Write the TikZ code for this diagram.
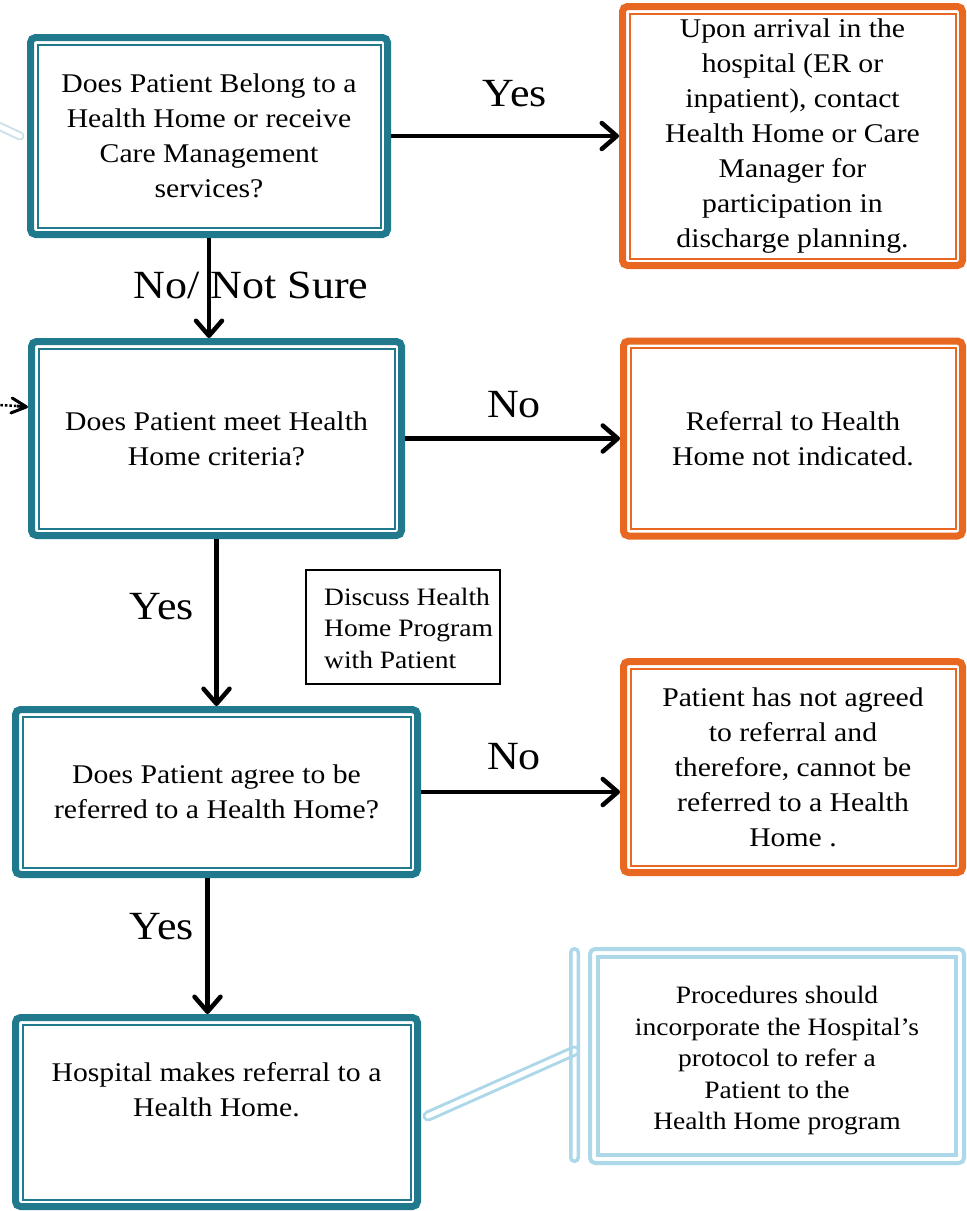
\documentclass[tikz,border=0pt]{standalone}
\usepackage{fontspec}
\setmainfont{Liberation Serif}[FakeStretch=1.1]
\usetikzlibrary{arrows.meta,calc}
\definecolor{tealc}{RGB}{33,121,141}
\definecolor{orangec}{RGB}{233,104,33}
\definecolor{callc}{RGB}{172,216,234}
\definecolor{palec}{RGB}{205,225,232}
\newcommand\mainfnt{\fontsize{27}{35}\selectfont}
\newcommand\smallfnt{\fontsize{25}{31.5}\selectfont}
\newcommand\lblfnt{\fontsize{40}{48}\selectfont}
\begin{document}
\begin{tikzpicture}[x=1pt,y=-1pt,
  bluebox/.style={draw=tealc, line width=7pt, rounded corners=5pt, fill=white,
    outer sep=3.5pt, inner sep=0pt, align=center, font=\mainfnt},
  orangebox/.style={bluebox, draw=orangec},
  innerteal/.style={draw=tealc, line width=2pt},
  innerorange/.style={draw=orangec, line width=2pt},
  arr/.style={draw=black, line width=4.5pt, -{Straight Barb[length=15pt,width=26pt,round]}},
  lbl/.style={font=\lblfnt, anchor=base, inner sep=0pt},
  pill/.style={draw=callc, line width=3pt, double=white, double distance=5pt, line cap=round},
  palepill/.style={draw=palec, line width=2pt, double=white, double distance=5pt, line cap=round},
  discbox/.style={draw=black, line width=1.5pt, inner sep=0pt, outer sep=0pt},
  txt/.style={inner sep=0pt, align=left, font=\smallfnt},
  callbox/.style={draw=callc, line width=4pt, rounded corners=5pt, inner sep=0pt, outer sep=0pt,
    align=center, font=\smallfnt}
]
\useasboundingbox (0,0) rectangle (967,1211);
\clip (0,0) rectangle (967,1211);
\fill[white] (0,0) rectangle (967,1211);

% free ends
\coordinate (tl) at (-12,121);
\coordinate (lin) at (-40,403);
\coordinate (lmid) at (17,406);

\draw[palepill] (tl) -- (20,136);

% main boxes
\node[bluebox, minimum width=357pt, minimum height=197pt] (b1) at (209,136)
  {Does Patient Belong to a\\Health Home or receive\\Care Management\\services?};
\node[orangebox, minimum width=340pt, minimum height=259pt] (o1) at (792.5,136)
  {Upon arrival in the\\hospital (ER or\\inpatient), contact\\Health Home or Care\\Manager for\\participation in\\discharge planning.};
\node[bluebox, minimum width=370pt, minimum height=194pt] (b2) at (216.5,438.5)
  {Does Patient meet Health\\Home criteria?};
\node[orangebox, minimum width=339pt, minimum height=195pt] (o2) at (793,438.5)
  {Referral to Health\\Home not indicated.};
\node[bluebox, minimum width=402pt, minimum height=165pt] (b3) at (216.5,792)
  {Does Patient agree to be\\referred to a Health Home?};
\node[orangebox, minimum width=339pt, minimum height=211pt] (o3) at (793,767)
  {Patient has not agreed\\to referral and\\therefore, cannot be\\referred to a Health\\Home .};
\node[bluebox, minimum width=402pt, minimum height=189pt] (b4) at (216.5,1112) {};
\node[font=\mainfnt, align=center, inner sep=0pt] (b4t) at ($(b4.center)+(0,-22)$)
  {Hospital makes referral to a\\Health Home.};

\foreach \n in {b1,b2,b3,b4}
  \draw[innerteal] ($(\n.north west)+(10.5,10.5)$) rectangle ($(\n.south east)+(-10.5,-10.5)$);
\foreach \n in {o1,o2,o3}
  \draw[innerorange] ($(\n.north west)+(10.5,10.5)$) rectangle ($(\n.south east)+(-10.5,-10.5)$);

% discuss box
\node[discbox, minimum width=194pt, minimum height=114pt] (disc) at (403,627) {};
\node[txt, anchor=west] (disct) at (324,628)
  {Discuss Health\\Home Program\\with Patient};

% callout
\node[callbox, minimum width=374pt, minimum height=214pt] (call) at (777,1056) {};
\node[txt, align=center] (callt) at (777,1061)
  {Procedures should\\incorporate the Hospital’s\\protocol to refer a\\Patient to the\\Health Home program};
\draw[callc, line width=4pt] ($(call.north west)+(8,8)$) rectangle ($(call.south east)+(-8,-8)$);
\draw[pill] ($(b4.east)+(7,4)$) -- (574.5,1051);
\node[draw=callc, line width=3.5pt, rounded corners=3.7pt, minimum width=7.5pt,
  minimum height=212.5pt, inner sep=0pt, outer sep=0pt] (bar) at (574.5,1055) {};

% connectors
\draw[arr] (b1.east) -- (o1.west);
\draw[arr] (b1.south) -- (b1.south |- b2.north);
\draw[arr] (b2.east) -- (o2.west);
\draw[arr] (b2.south) -- (b2.south |- b3.north);
\draw[arr] (b3.east) -- (b3.east -| o3.west);
\draw[arr] ($(b3.south)+(-9,0)$) -- ($(b3.south |- b4.north)+(-9,0)$);
\draw[black, line width=2.5pt, dotted] (lin) -- (lmid);
\draw[black, line width=3pt, -{Straight Barb[length=15pt,width=15pt,round]}]
  (lmid) -- (b2.west |- 0,407);

% labels
\node[lbl] (l1) at (515,106) {Yes};
\node[lbl] (l2) at (251,298) {No/ Not Sure};
\node[lbl] (l3) at (514,417) {No};
\node[lbl] (l4) at (162,619) {Yes};
\node[lbl] (l5) at (514,769) {No};
\node[lbl] (l6) at (162,939) {Yes};
\end{tikzpicture}
\end{document}
